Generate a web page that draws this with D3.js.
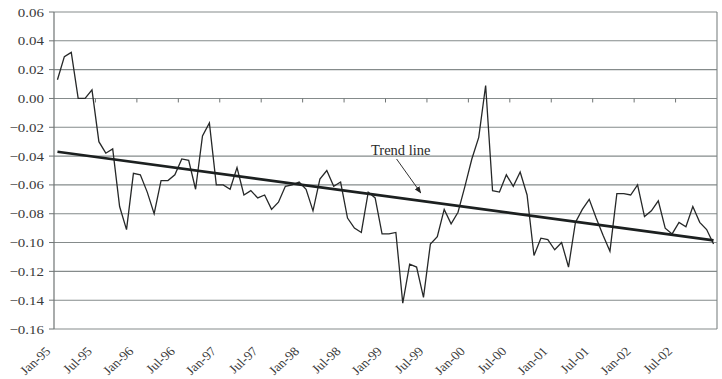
<!DOCTYPE html>
<html>
<head>
<meta charset="utf-8">
<script src="https://cdn.jsdelivr.net/npm/d3@7"></script>
<style>
  body { margin: 0; background: #fff; }
  text { font-family: "Liberation Serif", "Times New Roman", serif; }
</style>
</head>
<body>
<svg id="chart" width="722" height="379"></svg>
<script>
// monthly values, Jan-95 .. Dec-02
const values = [
  0.013, 0.029, 0.032, 0.000, 0.000, 0.006, -0.030, -0.038, -0.035, -0.075, -0.091, -0.052,
  -0.053, -0.065, -0.080, -0.057, -0.057, -0.053, -0.042, -0.043, -0.063, -0.026, -0.017, -0.060,
  -0.060, -0.063, -0.048, -0.067, -0.064, -0.069, -0.067, -0.077, -0.072, -0.061, -0.060, -0.058,
  -0.063, -0.078, -0.056, -0.050, -0.061, -0.058, -0.083, -0.090, -0.093, -0.065, -0.069, -0.094,
  -0.094, -0.093, -0.142, -0.115, -0.117, -0.138, -0.101, -0.096, -0.077, -0.087, -0.079, -0.061,
  -0.042, -0.027, 0.009, -0.064, -0.065, -0.053, -0.061, -0.051, -0.067, -0.109, -0.097, -0.098,
  -0.105, -0.100, -0.117, -0.086, -0.077, -0.070, -0.083, -0.095, -0.106, -0.066, -0.066, -0.067,
  -0.060, -0.082, -0.078, -0.071, -0.090, -0.094, -0.086, -0.089, -0.075, -0.086, -0.091, -0.101
];
const tickLabels = ["Jan-95", "Jul-95", "Jan-96", "Jul-96", "Jan-97", "Jul-97", "Jan-98", "Jul-98",
  "Jan-99", "Jul-99", "Jan-00", "Jul-00", "Jan-01", "Jul-01", "Jan-02", "Jul-02"];
const yTicks = [0.06, 0.04, 0.02, 0.00, -0.02, -0.04, -0.06, -0.08, -0.10, -0.12, -0.14, -0.16];
const trendEnds = [-0.037, -0.0985];   // fitted line at first and last month
const labelEvery = 6;

const margin = {top: 12, right: 5, bottom: 50, left: 54};
const width = 722 - margin.left - margin.right;
const height = 379 - margin.top - margin.bottom;

const svg = d3.select("#chart");
const g = svg.append("g")
  .attr("transform", "translate(" + margin.left + "," + margin.top + ")");

const x = d3.scaleBand()
  .domain(d3.range(values.length))
  .range([0, width])
  .padding(0);
const y = d3.scaleLinear()
  .domain([-0.16, 0.06])
  .range([height, 0]);
// centre of a (possibly fractional) month index
const xc = i => x(0) + (i + 0.5) * x.bandwidth();

// gridlines
g.selectAll(".grid")
  .data(yTicks)
  .enter().append("line")
  .attr("class", "grid")
  .attr("x1", 0).attr("x2", width)
  .attr("y1", d => y(d)).attr("y2", d => y(d))
  .attr("stroke", "#858b8b")
  .attr("stroke-width", 1.1);

// frame
g.append("line").attr("x1", 0).attr("x2", 0).attr("y1", 0).attr("y2", height)
  .attr("stroke", "#6f7474").attr("stroke-width", 1.2);
g.append("line").attr("x1", width).attr("x2", width).attr("y1", 0).attr("y2", height)
  .attr("stroke", "#7d8383").attr("stroke-width", 1.1);

// y axis ticks + labels
g.selectAll(".ytick")
  .data(yTicks)
  .enter().append("line")
  .attr("x1", -5).attr("x2", 0)
  .attr("y1", d => y(d)).attr("y2", d => y(d))
  .attr("stroke", "#6f7474");
g.selectAll(".ylab")
  .data(yTicks)
  .enter().append("g")
  .attr("transform", d => "translate(-10," + y(d) + ") scale(1.15,1)")
  .append("text")
  .attr("text-anchor", "end")
  .attr("dy", "0.35em")
  .attr("font-size", 13)
  .attr("fill", "#3a3a3a")
  .text(d => d3.format(".2f")(d));

// category ticks on the zero line
const tickIdx = d3.range(labelEvery, values.length, labelEvery);
g.selectAll(".xtick")
  .data(tickIdx)
  .enter().append("line")
  .attr("x1", d => x(d)).attr("x2", d => x(d))
  .attr("y1", y(0)).attr("y2", y(0) + 4)
  .attr("stroke", "#6f7474");

// rotated category labels below the plot
g.selectAll(".xlab")
  .data(tickLabels)
  .enter().append("g")
  .attr("transform", (d, k) => "translate(" + (xc(k * labelEvery) - 6) + "," + (height + 23) + ") scale(1.1,1) rotate(-45)")
  .append("text")
  .attr("text-anchor", "end")
  .attr("font-size", 12.5)
  .attr("fill", "#3a3a3a")
  .text(d => d);

// data line
const line = d3.line()
  .x((d, i) => xc(i))
  .y(d => y(d));
g.append("path")
  .datum(values)
  .attr("fill", "none")
  .attr("stroke", "#262828")
  .attr("stroke-width", 1.3)
  .attr("stroke-linejoin", "miter")
  .attr("d", line);

// trend line
g.append("line")
  .attr("x1", xc(0)).attr("y1", y(trendEnds[0]))
  .attr("x2", xc(values.length - 1)).attr("y2", y(trendEnds[1]))
  .attr("stroke", "#1c2020")
  .attr("stroke-width", 2.6);

// annotation: label and arrow, placed in data coordinates
const noteAt = [45.4, -0.039];
const arrowFrom = [49.1, -0.042];
const arrowTo = [52.6, -0.0655];

svg.append("defs").append("marker")
  .attr("id", "head")
  .attr("viewBox", "0 0 10 10")
  .attr("refX", 9).attr("refY", 5)
  .attr("markerWidth", 7).attr("markerHeight", 7)
  .attr("orient", "auto")
  .append("path")
  .attr("d", "M0,1 L10,5 L0,9 Z")
  .attr("fill", "#222");

g.append("text")
  .attr("x", xc(noteAt[0])).attr("y", y(noteAt[1]))
  .attr("font-size", 14.5)
  .attr("fill", "#2a2a2a")
  .text("Trend line");

g.append("line")
  .attr("x1", xc(arrowFrom[0])).attr("y1", y(arrowFrom[1]))
  .attr("x2", xc(arrowTo[0])).attr("y2", y(arrowTo[1]))
  .attr("stroke", "#333")
  .attr("stroke-width", 1)
  .attr("marker-end", "url(#head)");
</script>
</body>
</html>
